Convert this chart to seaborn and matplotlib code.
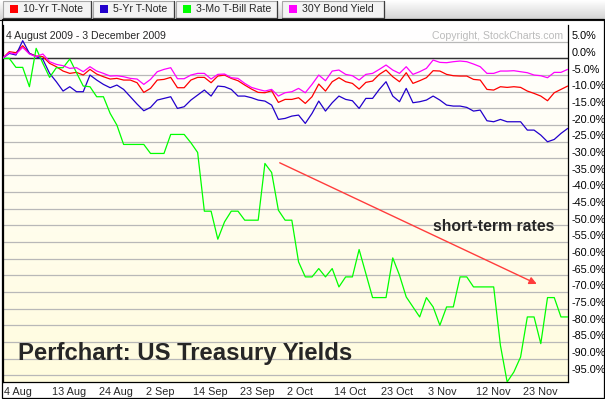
import numpy as np
import pandas as pd
import matplotlib
matplotlib.use("Agg")
import matplotlib.pyplot as plt
import matplotlib.transforms as mtransforms
from matplotlib.patches import Rectangle
from matplotlib.lines import Line2D
import seaborn as sns

sns.set_style("white")
plt.rcParams["font.family"] = ["Liberation Sans", "DejaVu Sans"]

# ========== 数据 (% 变化, 4 Aug 2009 = 0) ==========
tick_labels = ["4 Aug", "13 Aug", "24 Aug", "2 Sep", "14 Sep", "23 Sep",
               "2 Oct", "14 Oct", "23 Oct", "3 Nov", "12 Nov", "23 Nov"]
tick_pos = [0, 7, 14, 21, 28, 35, 42, 49, 56, 63, 70, 77]

ten_yr = [0, 2.0, 1.7, 3.8, 1.5, 0.7, 0.5, -1.5, -2.5, -3.8,
          -4.5, -4.2, -5.0, -3.3, -4.7, -5.5, -6.2, -6.0, -6.5, -6.5,
          -7.3, -10.2, -9.0, -6.5, -6.3, -5.7, -8.8, -8.8, -6.5, -5.7,
          -5.7, -7.3, -5.3, -5.0, -6.0, -6.7, -8.0, -9.2, -10.2, -10.3,
          -9.7, -13.2, -12.3, -12.3, -11.8, -13.5, -11.5, -7.7, -9.8, -7.0,
          -5.8, -7.0, -7.5, -9.2, -7.2, -6.8, -4.8, -3.5, -5.5, -7.0,
          -4.3, -7.5, -6.7, -5.8, -3.7, -3.8, -4.8, -5.2, -5.3, -5.3,
          -6.3, -6.5, -9.3, -9.5, -8.5, -8.7, -8.5, -8.7, -9.8, -10.5,
          -11.3, -12.7, -10.3, -9.3, -8.3]

five_yr = [0, 1.5, 1.0, 5.3, 1.5, 0.5, -0.3, -4.5, -7.0, -9.8,
           -8.5, -10.0, -10.0, -5.0, -6.5, -7.8, -8.8, -8.0, -9.3, -11.5,
           -13.7, -15.7, -14.7, -12.5, -12.0, -11.5, -15.0, -14.5, -12.5, -11.0,
           -9.5, -11.3, -8.3, -8.5, -9.3, -11.3, -11.3, -11.8, -12.5, -12.8,
           -14.0, -18.3, -18.0, -17.3, -17.0, -19.5, -16.5, -12.8, -15.8, -13.3,
           -11.3, -12.3, -12.7, -15.0, -12.0, -12.0, -9.3, -7.0, -11.3, -13.0,
           -9.0, -13.3, -13.0, -12.5, -11.3, -12.5, -14.0, -14.3, -14.3, -14.7,
           -15.8, -15.5, -18.7, -19.0, -18.3, -19.0, -19.0, -19.0, -21.5, -21.5,
           -23.0, -25.0, -24.3, -22.5, -21.0]

three_mo = [0, 0, -2.7, -2.7, -8.5, 3.0, -1.5, -5.7, -2.8, -2.8,
            -0.2, -4.3, -8.3, -8.5, -11.5, -11.5, -16.5, -20.0, -25.8, -25.8,
            -25.8, -25.8, -28.5, -28.5, -28.5, -22.8, -22.8, -22.8, -25.3, -28.2,
            -45.8, -45.8, -54.2, -49.0, -45.8, -45.8, -48.5, -48.5, -48.5, -31.5,
            -34.2, -45.5, -48.5, -48.5, -61.0, -65.5, -65.5, -63.0, -65.5, -63.0,
            -68.5, -65.5, -65.5, -57.3, -64.5, -71.7, -71.7, -71.7, -59.8, -65.0,
            -71.5, -74.5, -77.5, -71.7, -74.5, -80.0, -74.5, -74.5, -65.5, -65.5,
            -68.5, -68.5, -68.5, -68.5, -86.0, -97.0, -94.0, -89.5, -77.5, -77.5,
            -85.5, -71.7, -71.7, -77.5, -77.5]

thirty_yr = [0, 1.7, 1.3, 3.3, 1.3, 0.5, 1.3, -1.0, -1.8, -2.2,
             -3.0, -2.8, -4.0, -2.5, -3.8, -4.5, -5.3, -5.2, -5.5, -6.0,
             -6.2, -7.8, -6.3, -4.0, -3.3, -2.8, -6.1, -6.1, -5.0, -4.5,
             -4.5, -6.2, -4.8, -4.7, -5.8, -6.0, -7.5, -8.7, -9.3, -9.8,
             -9.3, -11.3, -10.3, -10.0, -9.0, -10.3, -7.8, -5.0, -6.7, -3.8,
             -3.5, -4.8, -5.2, -6.5, -4.8, -4.5, -3.3, -2.0, -3.5, -4.5,
             -2.5, -4.8, -4.0, -3.0, -0.5, -1.2, -1.3, -1.0, -0.8, -1.0,
             -1.7, -2.5, -4.5, -4.5, -3.8, -3.8, -3.7, -4.0, -4.3, -5.0,
             -5.2, -5.8, -4.2, -4.2, -3.3]

series_names = ["10-Yr T-Note", "5-Yr T-Note", "3-Mo T-Bill Rate", "30Y Bond Yield"]
series_colors = ["#FF0000", "#2200CC", "#00FF00", "#FF00FF"]
y_ticks = list(range(-95, 10, 5))

frames = []
for name, vals in zip(series_names, [ten_yr, five_yr, three_mo, thirty_yr]):
    frames.append(pd.DataFrame({"day": np.arange(len(vals)), "pct": vals, "series": name}))
df = pd.concat(frames, ignore_index=True)

# ========== 画图 ==========
W, H = 605, 399
fig = plt.figure(figsize=(W / 100, H / 100), dpi=100)


def px(x, y):
    """像素坐标(左上原点) -> figure fraction"""
    return x / W, 1 - y / H


# 顶部灰色渐变条
axb = fig.add_axes([0, (H - 20) / H, 1, 20 / H])
band = np.linspace(1.0, 0.82, 50).reshape(-1, 1)
axb.imshow(band, cmap="gray", vmin=0, vmax=1, aspect="auto", extent=[0, 1, 0, 1])
axb.set_xticks([])
axb.set_yticks([])
for s in ["top", "left", "right"]:
    axb.spines[s].set_visible(False)
axb.spines["bottom"].set_color("#111111")

ax = fig.add_axes([2.5 / W, (H - 382) / H, 565.2 / W, 357 / H])
x_max = len(ten_yr) - 1
y_lo, y_hi = -97, 10

# 背景: 白 -> 浅黄
grad = np.linspace(0, 1, 100).reshape(-1, 1)
top_c = np.array([1.0, 1.0, 1.0])
bot_c = np.array([255, 252, 222]) / 255
img = top_c + grad[..., None] * (bot_c - top_c)
ax.imshow(img, extent=[0, x_max, y_lo, y_hi], aspect="auto", zorder=0)

ax.set_yticks(y_ticks)
ax.grid(axis="y", color="#B8B8B8", linewidth=0.9, zorder=1)
ax.grid(axis="x", visible=False)
ax.axhline(0, color="#333333", linewidth=1.0, zorder=2)

sns.lineplot(data=df, x="day", y="pct", hue="series", hue_order=series_names,
             palette=series_colors, linewidth=0.9, legend=False, ax=ax, zorder=3)

ax.set_xlim(0, x_max)
ax.set_ylim(y_lo, y_hi)
ax.set_xlabel("")
ax.set_ylabel("")

# 右侧 y 轴
ax.yaxis.tick_right()
ax.set_yticklabels([f"{v:.1f}%" for v in y_ticks])
ax.tick_params(axis="y", length=0, pad=2.5, labelsize=7.8, colors="black")
up = mtransforms.ScaledTranslation(0, 0.005, fig.dpi_scale_trans)
for lab in ax.get_yticklabels():
    lab.set_va("bottom")
    lab.set_transform(lab.get_transform() + up)

# 底部日期
ax.set_xticks(tick_pos)
ax.set_xticklabels(tick_labels)
ax.tick_params(axis="x", direction="out", length=11.5, width=0.8, color="black",
               pad=-8.2, labelsize=7.8)
right = mtransforms.ScaledTranslation(0.02, 0, fig.dpi_scale_trans)
for lab in ax.get_xticklabels():
    lab.set_ha("left")
    lab.set_transform(lab.get_transform() + right)

for s in ["left", "right", "bottom"]:
    ax.spines[s].set_color("black")
    ax.spines[s].set_linewidth(0.9)
ax.spines["top"].set_visible(False)

# 文字
ax.text(0.006, 0.962, "4 August 2009 - 3 December 2009", transform=ax.transAxes,
        fontsize=7.6, va="baseline", ha="left", zorder=5)
ax.text(0.992, 0.962, "Copyright, StockCharts.com", transform=ax.transAxes,
        fontsize=7.6, color="#BBBBBB", va="baseline", ha="right", zorder=5)
ax.text(0.0274, 0.0616, "Perfchart: US Treasury Yields", transform=ax.transAxes,
        fontsize=17.2, fontweight="bold", va="baseline", ha="left", zorder=5)
ax.text(0.7617, 0.4216, "short-term rates", transform=ax.transAxes,
        fontsize=11.3, fontweight="bold", va="baseline", ha="left", zorder=5)
ax.annotate("", xy=(79.4, -67.6), xytext=(41.2, -31.3),
            arrowprops=dict(arrowstyle="-|>", color="#FF3C3C", lw=1.0,
                            mutation_scale=11, shrinkA=0, shrinkB=0), zorder=5)

# 外框
fig.add_artist(Rectangle((2 / W, 1 / H), 602 / W, 379 / H, transform=fig.transFigure,
                         fill=False, edgecolor="black", linewidth=0.9))

# 图例按钮
btn_x = [3, 93, 176, 282]
btn_w = [88, 81, 101, 102]
for name, c, bx, bw in zip(series_names, series_colors, btn_x, btn_w):
    x0, y0 = px(bx, 18)
    fig.add_artist(Rectangle((x0, y0), bw / W, 17 / H, transform=fig.transFigure,
                             facecolor="#F3F3F3", edgecolor="#A8A8A8", linewidth=0.8))
    # 右/下 深色阴影边
    fig.add_artist(Line2D([(bx + bw) / W, (bx + bw) / W, x0], [1 - 1 / H, y0, y0],
                          transform=fig.transFigure, color="#3C3C3C", linewidth=0.9))
    sx, sy = px(bx + 7, 12.5)
    fig.add_artist(Rectangle((sx, sy), 7.5 / W, 7.5 / H, transform=fig.transFigure,
                             facecolor=c, edgecolor="none"))
    tx, ty = px(bx + 20, 9)
    fig.text(tx, ty, name, fontsize=7.6, va="center", ha="left")

fig.savefig("out.png", dpi=100)
